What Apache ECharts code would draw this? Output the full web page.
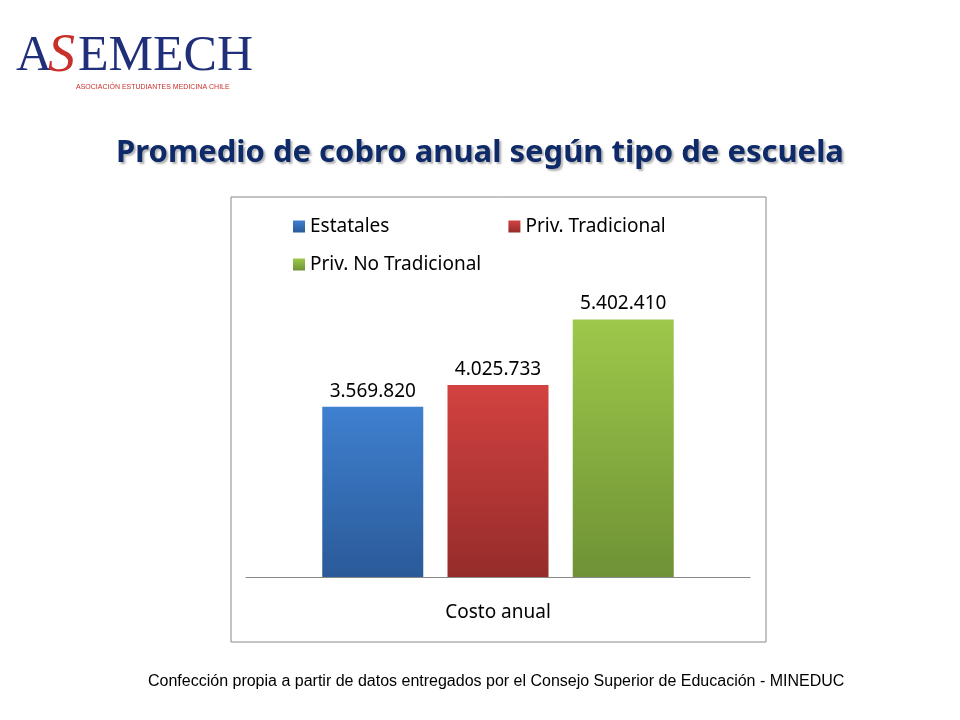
<!DOCTYPE html>
<html>
<head>
<meta charset="utf-8">
<script src="https://cdn.jsdelivr.net/npm/echarts@6/dist/echarts.min.js"></script>
<style>html,body{margin:0;padding:0;background:#fff}#chart{width:960px;height:720px}</style>
</head>
<body>
<div id="chart"></div>
<script>
const categories = ['Costo anual'];
const seriesNames = ['Estatales', 'Priv. Tradicional', 'Priv. No Tradicional'];
const estatales = [3569820];
const privTradicional = [4025733];
const privNoTradicional = [5402410];

const fmt = v => String(v).replace(/\B(?=(\d{3})+(?!\d))/g, '.');

const grad = (top, bottom) => new echarts.graphic.LinearGradient(0, 0, 0, 1, [
    { offset: 0, color: top }, { offset: 1, color: bottom }
]);
const colors = [grad('#3f80d0', '#2a5a98'), grad('#d24240', '#952c2a'), grad('#9dc84a', '#6e9235')];
const legendColors = ['#3a77c2', '#c43b39', '#8dba41'];

const barSeries = (name, data, i) => ({
    name: name,
    type: 'bar',
    data: data,
    barWidth: 101,
    barGap: '24%',
    itemStyle: { color: colors[i] },
    label: {
        show: true,
        position: 'top',
        distance: 6,
        color: '#000',
        fontFamily: 'Noto Sans',
        fontSize: 19,
        formatter: p => fmt(p.value)
    }
});

const chart = echarts.init(document.getElementById('chart'));
chart.setOption({
    color: legendColors,
    title: {
        text: 'Promedio de cobro anual según tipo de escuela',
        left: 'center',
        top: 133,
        textStyle: {
            color: '#0f2a68',
            fontFamily: 'Noto Sans',
            fontWeight: 'bold',
            fontSize: 31,
            textShadowColor: 'rgba(0,0,0,0.3)',
            textShadowBlur: 2,
            textShadowOffsetX: 2,
            textShadowOffsetY: 2
        }
    },
    legend: [
        {
            data: seriesNames.slice(0, 2),
            left: 288, top: 212,
            itemWidth: 12, itemHeight: 12, itemGap: 119,
            icon: 'rect',
            textStyle: { fontFamily: 'Noto Sans', fontSize: 19, color: '#000' }
        },
        {
            data: seriesNames.slice(2),
            left: 288, top: 250,
            itemWidth: 12, itemHeight: 12,
            icon: 'rect',
            textStyle: { fontFamily: 'Noto Sans', fontSize: 19, color: '#000' }
        }
    ],
    grid: { left: 246, right: 210, top: 291, bottom: 143 },
    xAxis: {
        type: 'category',
        data: categories,
        axisTick: { show: false },
        axisLine: { lineStyle: { color: '#888' } },
        axisLabel: { margin: 26, color: '#000', fontFamily: 'Noto Sans', fontSize: 19 }
    },
    yAxis: { type: 'value', min: 0, max: 6000000, show: false, splitLine: { show: false } },
    graphic: [
        { type: 'rect', shape: { x: 231, y: 197, width: 535, height: 445 }, style: { fill: 'none', stroke: '#888', lineWidth: 1 } },
        { type: 'text', left: 16, top: 32, style: { text: 'A', fontFamily: 'Liberation Serif', fontSize: 50, fill: '#1f2f7a' } },
        { type: 'text', left: 48, top: 30, style: { text: 'S', fontFamily: 'Liberation Serif', fontStyle: 'italic', fontSize: 54, fill: '#c8302c' } },
        { type: 'text', left: 78, top: 32, style: { text: 'EMECH', fontFamily: 'Liberation Serif', fontSize: 50, fill: '#1f2f7a' } },
        { type: 'text', left: 76, top: 84, style: { text: 'ASOCIACIÓN ESTUDIANTES MEDICINA CHILE', fontFamily: 'Liberation Sans', fontSize: 7, fill: '#c8302c' } },
        { type: 'text', left: 148, top: 674, style: { text: 'Confección propia a partir de datos entregados por el Consejo Superior de Educación - MINEDUC', fontFamily: 'Liberation Sans', fontSize: 16, fill: '#000' } }
    ],
    series: [
        barSeries(seriesNames[0], estatales, 0),
        barSeries(seriesNames[1], privTradicional, 1),
        barSeries(seriesNames[2], privNoTradicional, 2)
    ]
});
</script>
</body>
</html>
